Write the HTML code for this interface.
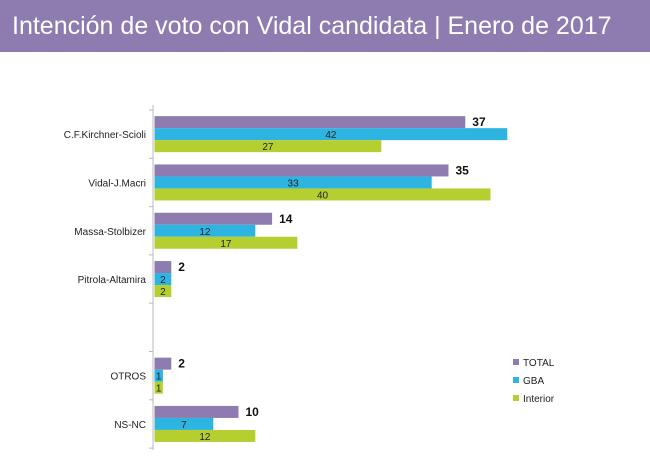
<!DOCTYPE html>
<html><head><meta charset="utf-8"><style>
body{margin:0;width:650px;height:476px;background:#fff;overflow:hidden;font-family:"Liberation Sans",sans-serif}
#title{position:absolute;left:0;top:0;width:650px;height:52px;background:#8e7cb1;color:#fff;font-size:25px;line-height:52px;padding-left:12px;box-sizing:border-box}
</style></head><body>
<div id="title">Intención de voto con Vidal candidata | Enero de 2017</div>
<svg id="chart" width="650" height="476" style="position:absolute;left:0;top:0"></svg>
<script>
const categories=["C.F.Kirchner-Scioli","Vidal-J.Macri","Massa-Stolbizer","Pitrola-Altamira","","OTROS","NS-NC"];
const totalVals=[37,35,14,2,null,2,10];
const gbaVals=[42,33,12,2,null,1,7];
const interiorVals=[27,40,17,2,null,1,12];
const seriesNames=["TOTAL","GBA","Interior"];
const colors=["#8e7cb1","#2db4e0","#b6cf30"];
const svg=document.getElementById('chart');
const NS='http://www.w3.org/2000/svg';
const x0=154.5, pxPer=8.4, plotTop=110, band=48.3, barH=12;
const xs=v=>x0+v*pxPer;
const yBand=i=>plotTop+i*band;
function mk(t,a){const e=document.createElementNS(NS,t);for(const k in a)e.setAttribute(k,a[k]);svg.appendChild(e);return e;}
const ax=mk('line',{x1:153,y1:105,x2:153,y2:450,stroke:'#bbb','stroke-width':1});


for(let i=0;i<=categories.length;i++){
 const tk=mk('line',{x1:149,x2:153,y1:yBand(i),y2:yBand(i),stroke:'#bbb'});
 
 
}
const series=[totalVals,gbaVals,interiorVals];
categories.forEach((c,i)=>{
 const cy=yBand(i)+band/2;
 if(c){const t=mk('text',{x:146,y:cy+4,'text-anchor':'end','font-size':10,fill:'#222'});t.textContent=c;
 
 }
 series.forEach((s,j)=>{
  const v=s[i]; if(v==null)return;
  const y=cy-18+j*barH;
  const r=mk('rect',{x:x0,y:y,width:xs(v)-x0,height:barH,fill:colors[j]});
  
  
  let t;
  if(j===0){t=mk('text',{x:xs(v)+7,y:y+10,'font-size':12,'font-weight':'bold',fill:'#111'});}
  else{t=mk('text',{x:(x0+xs(v))/2,y:y+10,'text-anchor':'middle','font-size':10,fill:'#222'});}
  t.textContent=v;
  
  
 });
});
seriesNames.forEach((n,j)=>{
 const y=363+j*18;
 const r=mk('rect',{x:513,y:y-4,width:6,height:6,fill:colors[j]});
 
 
 const t=mk('text',{x:523,y:y+3,'font-size':10,fill:'#222'});t.textContent=n;
 
 
});
</script>
</body></html>
